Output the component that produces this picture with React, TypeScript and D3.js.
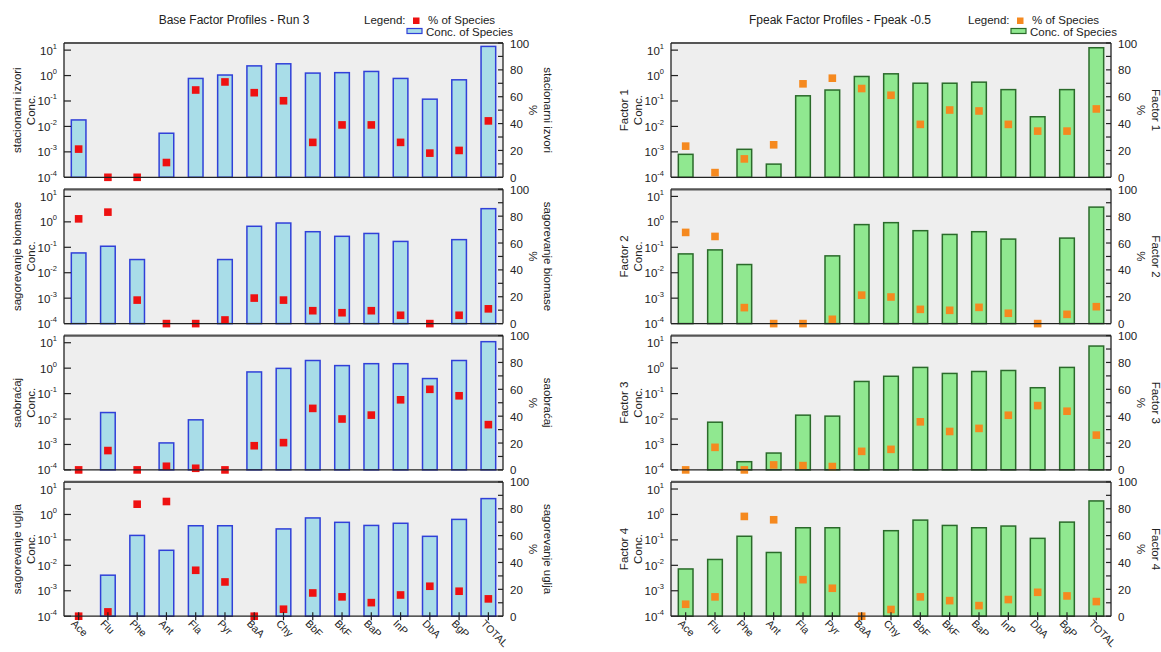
import React from "react";
import * as d3 from "d3";

const species = ["Ace", "Flu", "Phe", "Ant", "Fla", "Pyr", "BaA", "Chy", "BbF", "BkF", "BaP", "InP", "DbA", "BgP", "TOTAL"];

const baseNames = ["stacionarni izvori", "sagorevanje biomase", "saobraćaj", "sagorevanje uglja"];
const fpeakNames = ["Factor 1", "Factor 2", "Factor 3", "Factor 4"];

const baseConc1 = [0.018, null, null, 0.0054, 0.77, 1.05, 2.4, 2.9, 1.25, 1.3, 1.45, 0.77, 0.118, 0.68, 14];
const basePct1 = [21, 0, 0, 11, 65, 71, 63, 57, 26, 39, 39, 26, 18, 20, 42];
const baseConc2 = [0.06, 0.11, 0.033, null, null, 0.033, 0.67, 0.9, 0.41, 0.27, 0.35, 0.17, null, 0.2, 3.3];
const basePct2 = [78, 83, 17.5, 0, 0, 2.7, 19, 17.5, 9.6, 8.1, 9.6, 6.2, 0, 6.2, 11];
const baseConc3 = [null, 0.018, null, 0.00115, 0.0093, null, 0.71, 0.98, 2.0, 1.26, 1.5, 1.5, 0.39, 2.0, 11];
const basePct3 = [0, 14.4, 0, 2.7, 1.2, 0, 18, 20.3, 45.8, 37.9, 40.8, 52.2, 60, 55.2, 33.7];
const baseConc4 = [null, 0.0041, 0.15, 0.039, 0.36, 0.36, null, 0.27, 0.73, 0.49, 0.37, 0.45, 0.138, 0.64, 4.2];
const basePct4 = [0, 3.2, 83.4, 85.4, 34.2, 25.5, 0, 5.2, 17.3, 14.4, 10.1, 15.8, 22.3, 18.6, 12.9];

const fpeakConc1 = [0.0008, null, 0.00126, 0.00033, 0.16, 0.27, 0.92, 1.17, 0.5, 0.5, 0.55, 0.28, 0.024, 0.28, 12.4];
const fpeakPct1 = [23.2, 3.5, 13.7, 24.2, 69.6, 73.8, 66.1, 61.1, 39.4, 50.1, 49.4, 39.4, 34.4, 34.4, 50.9];
const fpeakConc2 = [0.055, 0.079, 0.021, null, null, 0.046, 0.78, 0.93, 0.45, 0.32, 0.41, 0.21, null, 0.23, 3.8];
const fpeakPct2 = [67.9, 64.9, 11.9, 0, 0, 3.2, 21.2, 19.8, 10.6, 9.9, 12.1, 7.7, 0, 6.9, 12.6];
const fpeakConc3 = [null, 0.0075, 0.00021, 0.00046, 0.0142, 0.013, 0.3, 0.48, 1.07, 0.62, 0.74, 0.81, 0.17, 1.07, 7.4];
const fpeakPct3 = [0, 16.8, 0, 3.7, 3.2, 2.5, 13.8, 15.3, 35.8, 28.6, 30.9, 40.7, 47.9, 43.7, 25.9];
const fpeakConc4 = [0.0072, 0.017, 0.139, 0.032, 0.3, 0.3, null, 0.23, 0.6, 0.37, 0.3, 0.35, 0.115, 0.5, 3.4];
const fpeakPct4 = [8.9, 14.4, 74.3, 71.8, 27.2, 20.8, 0, 5, 14.4, 11.6, 7.9, 12.4, 17.8, 15.1, 10.9];

const logTicks = [1e1, 1e0, 1e-1, 1e-2, 1e-3, 1e-4];
const pctTicks = [0, 20, 40, 60, 80, 100];
const pctMinor = [0, 10, 20, 30, 40, 50, 60, 70, 80, 90, 100];

const FONT = "'Liberation Sans', Arial, sans-serif";
const TOP0 = 43;
const STEP = 146.3;
const H = 134.3;

type PanelProps = {
  x0: number;
  x1: number;
  title: string;
  titleX: number;
  legendX: number;
  names: string[];
  concs: (number | null)[][];
  pcts: number[][];
  barFill: string;
  barStroke: string;
  dotColor: string;
};

function Panel(p: PanelProps) {
  const xs = d3.scaleBand<string>().domain(species).range([p.x0, p.x1]).paddingInner(0.5).paddingOuter(0.25);
  const bw = xs.bandwidth();
  return (
    <g fontFamily={FONT}>
      <text x={p.titleX} y={24} fontSize={12} textAnchor="middle" fill="#222">{p.title}</text>
      <text x={p.legendX} y={24} fontSize={11.5} fill="#222">Legend:</text>
      <rect x={p.legendX + 49} y={17.5} width={6.5} height={6.5} fill={p.dotColor} />
      <text x={p.legendX + 64} y={24} fontSize={11.5} fill="#222">% of Species</text>
      <rect x={p.legendX + 43} y={28.5} width={15} height={5} fill={p.barFill} stroke={p.barStroke} strokeWidth={1.2} />
      <text x={p.legendX + 62} y={36} fontSize={11.5} fill="#222">Conc. of Species</text>
      {p.names.map((name, i) => {
        const top = TOP0 + i * STEP;
        const bottom = top + H;
        const ys = d3.scaleLog().domain([1e-4, Math.pow(10, 1.28)]).range([bottom, top]);
        const yp = d3.scaleLinear().domain([0, 100]).range([bottom, top]);
        const conc = p.concs[i];
        const pct = p.pcts[i];
        const midY = (top + bottom) / 2;
        return (
          <g key={name}>
            <rect x={p.x0} y={top} width={p.x1 - p.x0} height={H} fill="#eeeeee" />
            {species.map((s, j) => {
              const v = conc[j];
              if (v == null) return null;
              const y = ys(v);
              return (
                <rect key={s} x={xs(s)!} y={y} width={bw} height={bottom - y} fill={p.barFill} stroke={p.barStroke} strokeWidth={1.5} />
              );
            })}
            {species.map((s, j) => (
              <rect key={"d" + s} x={xs(s)! + bw / 2 - 3.8} y={yp(pct[j]) - 3.8} width={7.6} height={7.6} fill={p.dotColor} />
            ))}
            <line x1={p.x0} x2={p.x1} y1={top} y2={top} stroke="#555" strokeWidth={2.2} />
            <line x1={p.x0} x2={p.x0} y1={top} y2={bottom} stroke="#222" strokeWidth={1.3} />
            <line x1={p.x1} x2={p.x1} y1={top} y2={bottom} stroke="#222" strokeWidth={1.3} />
            <line x1={p.x0} x2={p.x1} y1={bottom} y2={bottom} stroke="#222" strokeWidth={1.3} />
            {logTicks.map((t) => (
              <g key={"lt" + t}>
                <line x1={p.x0} x2={p.x0 + 7} y1={ys(t)} y2={ys(t)} stroke="#222" strokeWidth={1.2} />
                <text x={p.x0 - 7} y={ys(t) + 4.5} fontSize={11.5} textAnchor="end" fill="#222">
                  10<tspan dy={-6} fontSize={7.5}>{String(Math.round(Math.log10(t)))}</tspan>
                </text>
              </g>
            ))}
            {pctMinor.map((t) => (
              <line key={"pm" + t} x1={p.x1 - 5} x2={p.x1} y1={yp(t)} y2={yp(t)} stroke="#222" strokeWidth={1.2} />
            ))}
            {pctTicks.map((t) => (
              <text key={"pt" + t} x={p.x1 + 7} y={yp(t) + 4.5} fontSize={11.5} fill="#222">{t}</text>
            ))}
            <text transform={`translate(${p.x0 - 47},${midY}) rotate(-90)`} fontSize={11.5} textAnchor="middle" dy="0.35em" fill="#222">{name}</text>
            <text transform={`translate(${p.x0 - 33},${midY}) rotate(-90)`} fontSize={11.5} textAnchor="middle" dy="0.35em" fill="#222">Conc.</text>
            <text transform={`translate(${p.x1 + 30},${midY}) rotate(90)`} fontSize={11.5} textAnchor="middle" dy="0.35em" fill="#222">%</text>
            <text transform={`translate(${p.x1 + 45},${midY}) rotate(90)`} fontSize={11.5} textAnchor="middle" dy="0.35em" fill="#222">{name}</text>
            {i === p.names.length - 1 &&
              species.map((s) => {
                const cx = xs(s)! + bw / 2;
                return (
                  <g key={"xl" + s}>
                    <line x1={cx} x2={cx} y1={bottom - 4} y2={bottom + 4} stroke="#222" strokeWidth={1.2} />
                    <text transform={`translate(${cx - 4},${bottom + 4}) rotate(45)`} fontSize={10.5} dy="0.55em" fill="#222">{s}</text>
                  </g>
                );
              })}
          </g>
        );
      })}
    </g>
  );
}

export default function App() {
  return (
    <svg width={1161} height={652} style={{ position: "absolute", left: 0, top: 0, background: "#fff" }}>
      <rect x={0} y={0} width={1161} height={652} fill="#fff" />
      <Panel
        x0={64}
        x1={503}
        title="Base Factor Profiles - Run 3"
        titleX={234}
        legendX={364}
        names={baseNames}
        concs={[baseConc1, baseConc2, baseConc3, baseConc4]}
        pcts={[basePct1, basePct2, basePct3, basePct4]}
        barFill="#a9dde8"
        barStroke="#3040d8"
        dotColor="#ee1111"
      />
      <Panel
        x0={671}
        x1={1111}
        title="Fpeak Factor Profiles - Fpeak -0.5"
        titleX={840}
        legendX={968}
        names={fpeakNames}
        concs={[fpeakConc1, fpeakConc2, fpeakConc3, fpeakConc4]}
        pcts={[fpeakPct1, fpeakPct2, fpeakPct3, fpeakPct4]}
        barFill="#90e890"
        barStroke="#2a6a2a"
        dotColor="#f5891f"
      />
    </svg>
  );
}
